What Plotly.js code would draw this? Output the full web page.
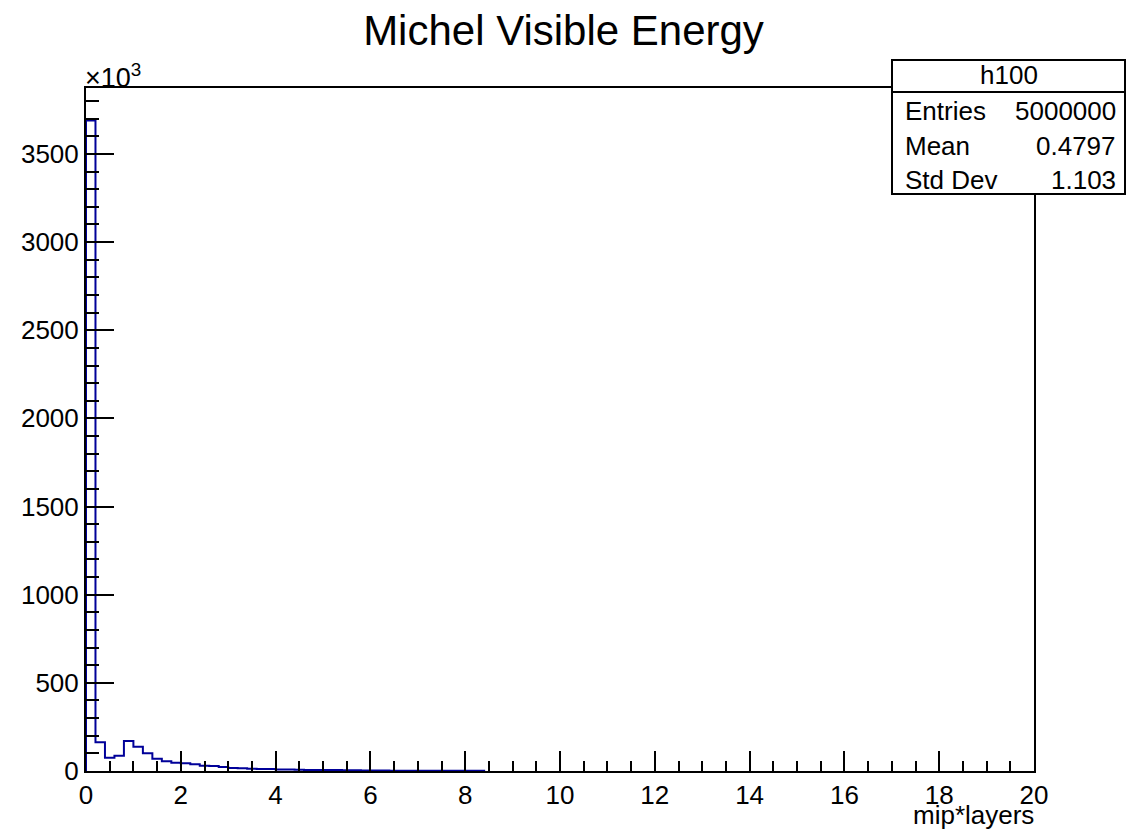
<!DOCTYPE html>
<html>
<head>
<meta charset="utf-8">
<script src="https://cdn.plot.ly/plotly-3.0.1.min.js"></script>
<style>html,body{margin:0;padding:0;background:#fff;}#chart{width:1127px;height:832px;}</style>
</head>
<body>
<div id="chart"></div>
<script>
// Histogram h100: 100 bins over [0, 20], counts in units of 10^3 entries
const histName = "h100";
const xMin = 0;
const xMax = 20;
const nBins = 100;
const countsK = [
  3690, 163, 75, 87, 170, 138, 100, 70, 55, 47,
  44, 38, 30, 28, 23, 17, 15, 13, 12, 11,
  9, 8, 7, 6, 6, 5, 5, 4, 4, 3,
  3, 3, 2, 2, 2, 2, 1.5, 1.5, 1, 1,
  1, 1, 0, 0, 0, 0, 0, 0, 0, 0,
  0, 0, 0, 0, 0, 0, 0, 0, 0, 0,
  0, 0, 0, 0, 0, 0, 0, 0, 0, 0,
  0, 0, 0, 0, 0, 0, 0, 0, 0, 0,
  0, 0, 0, 0, 0, 0, 0, 0, 0, 0,
  0, 0, 0, 0, 0, 0, 0, 0, 0, 0
];
const statLabels = ["Entries", "Mean", "Std Dev"];
const statValues = ["5000000", "0.4797", "1.103"];
const yTickVals = [0, 500, 1000, 1500, 2000, 2500, 3000, 3500];
const xTickVals = [0, 2, 4, 6, 8, 10, 12, 14, 16, 18, 20];

const binW = (xMax - xMin) / nBins;
let lastBin = 0;
countsK.forEach((c, i) => { if (c > 0) lastBin = i; });
// step outline: rise from 0 at the left edge, hv steps, drop at the right edge of the last filled bin
const xs = [xMin];
const ys = [0];
for (let i = 0; i <= lastBin; i++) { xs.push(xMin + i * binW); ys.push(countsK[i]); }
xs.push(xMin + (lastBin + 1) * binW); ys.push(0);

const FONT = "Liberation Sans, Arial, sans-serif";
const L = 86, R = 1034, T = 88, B = 771;
const px = v => (v - L) / (R - L);
const py = v => (B - v) / (B - T);

const trace = {
  type: "scatter", mode: "lines",
  x: xs, y: ys,
  line: {shape: "hv", color: "#000099", width: 2},
  hoverinfo: "skip"
};

const statRowsY = [111, 146, 180];
const annotations = [
  {xref: "paper", yref: "paper", x: px(1009), y: py(75), text: histName, showarrow: false,
   xanchor: "center", yanchor: "middle", font: {family: FONT, size: 26, color: "#000"}},
  {xref: "paper", yref: "paper", x: px(83), y: py(76), text: "×10<sup>3</sup>", showarrow: false,
   xanchor: "left", yanchor: "middle", font: {family: FONT, size: 27, color: "#000"}},
  {xref: "paper", yref: "paper", x: px(1036), y: py(815), text: "mip*layers", showarrow: false,
   xanchor: "right", yanchor: "middle", font: {family: FONT, size: 26, color: "#000"}}
];
statLabels.forEach((lab, i) => {
  annotations.push({xref: "paper", yref: "paper", x: px(903), y: py(statRowsY[i]), text: lab,
    showarrow: false, xanchor: "left", yanchor: "middle", font: {family: FONT, size: 26, color: "#000"}});
  annotations.push({xref: "paper", yref: "paper", x: px(1118), y: py(statRowsY[i]), text: statValues[i],
    showarrow: false, xanchor: "right", yanchor: "middle", font: {family: FONT, size: 26, color: "#000"}});
});

const shapes = [
  {type: "rect", xref: "paper", yref: "paper", x0: px(892), x1: px(1125), y0: py(194), y1: py(60),
   line: {color: "#000", width: 2}, fillcolor: "#fff", layer: "above"},
  {type: "line", xref: "paper", yref: "paper", x0: px(892), x1: px(1125), y0: py(92), y1: py(92),
   line: {color: "#000", width: 2}, layer: "above"}
];

const layout = {
  width: 1127, height: 832,
  margin: {l: L, r: 1127 - R, t: T, b: 832 - B, pad: 0},
  paper_bgcolor: "#fff", plot_bgcolor: "#fff",
  showlegend: false,
  font: {family: FONT, color: "#000"},
  title: {text: "Michel Visible Energy", font: {family: FONT, size: 42, color: "#000"},
          x: 0.5, xref: "container", xanchor: "center", y: 1 - 30 / 832, yref: "container", yanchor: "middle"},
  xaxis: {
    range: [xMin, xMax], tickvals: xTickVals, ticktext: xTickVals.map(String),
    ticks: "inside", ticklen: 20, tickwidth: 2, tickcolor: "#000",
    minor: {dtick: 0.5, ticks: "inside", ticklen: 10, tickwidth: 2, tickcolor: "#000"},
    showline: true, linecolor: "#000", linewidth: 2, mirror: true,
    showgrid: false, zeroline: false,
    tickfont: {family: FONT, size: 26, color: "#000"}
  },
  yaxis: {
    range: [0, 3874], tickvals: yTickVals, ticktext: yTickVals.map(String),
    ticks: "inside", ticklen: 28, tickwidth: 2, tickcolor: "#000",
    minor: {dtick: 100, ticks: "inside", ticklen: 13, tickwidth: 2, tickcolor: "#000"},
    showline: true, linecolor: "#000", linewidth: 2, mirror: true,
    showgrid: false, zeroline: false,
    tickfont: {family: FONT, size: 26, color: "#000"}
  },
  annotations: annotations,
  shapes: shapes
};

Plotly.newPlot("chart", [trace], layout, {displayModeBar: false, staticPlot: true});
</script>
</body>
</html>
